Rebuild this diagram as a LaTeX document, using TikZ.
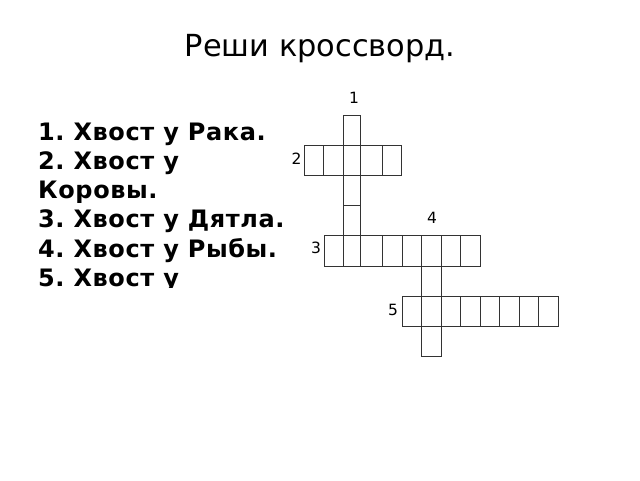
\documentclass[tikz,border=0pt]{standalone}
\usepackage{fontspec}
\setmainfont{DejaVu Sans}
\newfontfamily\cluefont[LetterSpace=2.5]{DejaVu Sans}
\begin{document}
\frenchspacing
\begin{tikzpicture}[x=1pt,y=-1pt,
  cell/.style={draw=black!80,line width=1pt},
  clue/.style={anchor=base west,font=\cluefont\fontsize{24}{28}\bfseries\selectfont,inner sep=0pt},
  num/.style={font=\fontsize{15.5}{18}\selectfont,inner sep=0pt}]
\useasboundingbox (0,0) rectangle (640,480);
\node[anchor=base,font=\fontsize{30.4}{34}\selectfont,inner sep=0pt] (title) at (320,56) {Реши кроссворд.};
% clues
\node[clue] (c1) at (38,140) {1. Хвост у Рака.};
\node[clue] (c2) at (38,169.3) {2. Хвост у};
\node[clue] (c2b) at (38,198.6) {Коровы.};
\node[clue] (c3) at (38,227.9) {3. Хвост у Дятла.};
\node[clue] (c4) at (38,257.2) {4. Хвост у Рыбы.};
\begin{scope}
\clip (0,0) rectangle (640,287);
\node[clue] (c5) at (38,286.7) {5. Хвост у};
\end{scope}
% word 1 (vertical)
\foreach \a/\b in {115/145,145/175,175/205.5,205.5/235.7,235.7/266}
  \draw[cell] (343.3,\a) rectangle (360,\b);
% word 2 (horizontal)
\foreach \a/\b in {304/323.5,323.5/343.3,343.3/360,360/382.3,382.3/401.7}
  \draw[cell] (\a,145) rectangle (\b,175);
% word 3 (horizontal)
\foreach \a/\b in {324/343.3,343.3/360,360/382.3,382.3/402,402/421.7,421.7/441,441/460.7,460.7/480}
  \draw[cell] (\a,235.7) rectangle (\b,266);
% word 4 (vertical)
\foreach \a/\b in {235.7/266,266/296.7,296.7/326.7,326.7/356.7}
  \draw[cell] (421.7,\a) rectangle (441,\b);
% word 5 (horizontal)
\foreach \a/\b in {402.3/421.7,421.7/441,441/460.7,460.7/480,480/499.7,499.7/519.3,519.3/538.7,538.7/558.3}
  \draw[cell] (\a,296.7) rectangle (\b,326.7);
% numbers
\node[num] (n1) at (354,97.5) {1};
\node[num] (n2) at (296.5,158.8) {2};
\node[num] (n3) at (316,248) {3};
\node[num] (n4) at (432,218) {4};
\node[num] (n5) at (393,310) {5};
\end{tikzpicture}
\end{document}
